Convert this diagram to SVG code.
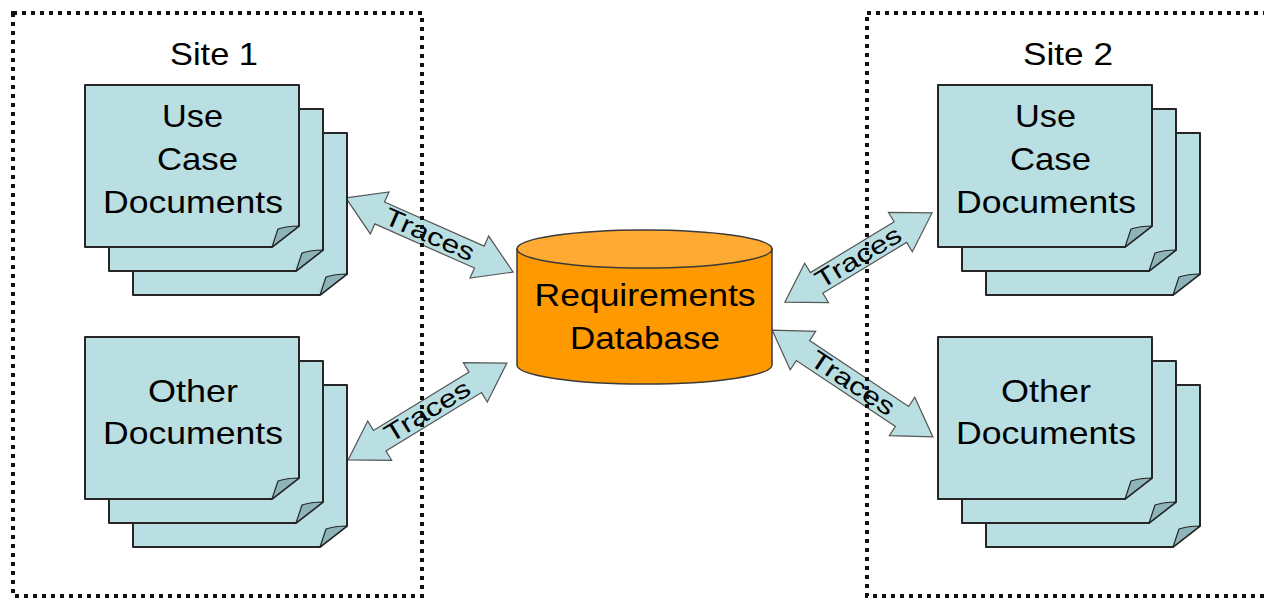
<svg xmlns="http://www.w3.org/2000/svg" xmlns:xlink="http://www.w3.org/1999/xlink" width="1264" height="601" viewBox="0 0 1264 601">
  <style>
    .site { fill: none; stroke: #111; stroke-width: 4; stroke-dasharray: 4 5; }
    .page { fill: #B9DFE3; stroke: #262626; stroke-width: 2; stroke-linejoin: round; }
    .fold { fill: #8DB4B8; stroke: #262626; stroke-width: 1.2; stroke-linejoin: round; }
    .label { font-family: "Liberation Sans", Arial, sans-serif; font-size: 32px; fill: #000; text-anchor: middle; }
    .arrow { fill: #B9DFE3; stroke: #555; stroke-width: 1.2; stroke-linejoin: miter; }
    .trace { font-family: "Liberation Sans", Arial, sans-serif; font-size: 25px; fill: #000; text-anchor: middle; }
    .db-body { fill: #FF9900; stroke: #3a3a3a; stroke-width: 1.5; }
    .db-top { fill: #FFAA33; stroke: #3a3a3a; stroke-width: 1.5; }
  </style>
  <defs>
    <!-- one sheet with a curled bottom-right corner -->
    <g id="sheet">
      <path class="page" d="M0,0 H214 V141 L187,162 H0 Z"/>
      <path class="fold" d="M187,162 L214,141 C207,141 199,142 193,144 C191,150 189,156 187,162 Z"/>
    </g>
    <!-- three stacked sheets, back to front -->
    <g id="stack">
      <use xlink:href="#sheet" x="48" y="48"/>
      <use xlink:href="#sheet" x="24" y="24"/>
      <use xlink:href="#sheet" x="0" y="0"/>
    </g>
  </defs>

  <rect width="1264" height="601" fill="#fff"/>

  <!-- two-way trace arrows -->
  <g id="connectors">
    <g transform="translate(429.5,235) rotate(23.9)">
      <polygon class="arrow" points="-91.5,0 -54.5,-23 -54.5,-12 54.5,-12 54.5,-23 91.5,0 54.5,23 54.5,12 -54.5,12 -54.5,23"/>
      <text class="trace" x="0" y="8" textLength="96" lengthAdjust="spacingAndGlyphs">Traces</text>
    </g>
    <g transform="translate(427.5,411.5) rotate(-31.4)">
      <polygon class="arrow" points="-93,0 -56,-23 -56,-12 56,-12 56,-23 93,0 56,23 56,12 -56,12 -56,23"/>
      <text class="trace" x="0" y="8" textLength="96" lengthAdjust="spacingAndGlyphs">Traces</text>
    </g>
    <g transform="translate(858.5,257.5) rotate(-31.2)">
      <polygon class="arrow" points="-86,0 -49,-23 -49,-12 49,-12 49,-23 86,0 49,23 49,12 -49,12 -49,23"/>
      <text class="trace" x="0" y="8" textLength="96" lengthAdjust="spacingAndGlyphs">Traces</text>
    </g>
    <g transform="translate(852.5,383.5) rotate(33.6)">
      <polygon class="arrow" points="-96.5,0 -59.5,-23 -59.5,-12 59.5,-12 59.5,-23 96.5,0 59.5,23 59.5,12 -59.5,12 -59.5,23"/>
      <text class="trace" x="0" y="8" textLength="96" lengthAdjust="spacingAndGlyphs">Traces</text>
    </g>
  </g>

  <!-- site boundaries -->
  <g id="site1">
    <rect class="site" x="13" y="13" width="409" height="583"/>
    <text class="label" x="214" y="65" textLength="88" lengthAdjust="spacingAndGlyphs">Site 1</text>
  </g>
  <g id="site2">
    <rect class="site" x="867" y="13" width="420" height="583"/>
    <text class="label" x="1068" y="65" textLength="90" lengthAdjust="spacingAndGlyphs">Site 2</text>
  </g>

  <!-- document stacks -->
  <g id="site1-usecase">
    <use xlink:href="#stack" x="85" y="85"/>
    <text class="label" x="192.5" y="127" textLength="61" lengthAdjust="spacingAndGlyphs">Use</text>
    <text class="label" x="197.5" y="170" textLength="81" lengthAdjust="spacingAndGlyphs">Case</text>
    <text class="label" x="193" y="213" textLength="180" lengthAdjust="spacingAndGlyphs">Documents</text>
  </g>
  <g id="site1-other">
    <use xlink:href="#stack" x="85" y="337"/>
    <text class="label" x="193" y="402" textLength="90" lengthAdjust="spacingAndGlyphs">Other</text>
    <text class="label" x="193" y="444" textLength="180" lengthAdjust="spacingAndGlyphs">Documents</text>
  </g>
  <g id="site2-usecase">
    <use xlink:href="#stack" x="938" y="85"/>
    <text class="label" x="1045.5" y="127" textLength="61" lengthAdjust="spacingAndGlyphs">Use</text>
    <text class="label" x="1050.5" y="170" textLength="81" lengthAdjust="spacingAndGlyphs">Case</text>
    <text class="label" x="1046" y="213" textLength="180" lengthAdjust="spacingAndGlyphs">Documents</text>
  </g>
  <g id="site2-other">
    <use xlink:href="#stack" x="938" y="337"/>
    <text class="label" x="1046" y="402" textLength="90" lengthAdjust="spacingAndGlyphs">Other</text>
    <text class="label" x="1046" y="444" textLength="180" lengthAdjust="spacingAndGlyphs">Documents</text>
  </g>

  <!-- central database cylinder -->
  <g id="requirements-db">
    <path class="db-body" d="M517,249 V365 A127.5,19 0 0 0 772,365 V249 Z"/>
    <ellipse class="db-top" cx="644.5" cy="249" rx="127.5" ry="19"/>
    <text class="label" x="645" y="306" textLength="221" lengthAdjust="spacingAndGlyphs">Requirements</text>
    <text class="label" x="645" y="349" textLength="150" lengthAdjust="spacingAndGlyphs">Database</text>
  </g>
</svg>
